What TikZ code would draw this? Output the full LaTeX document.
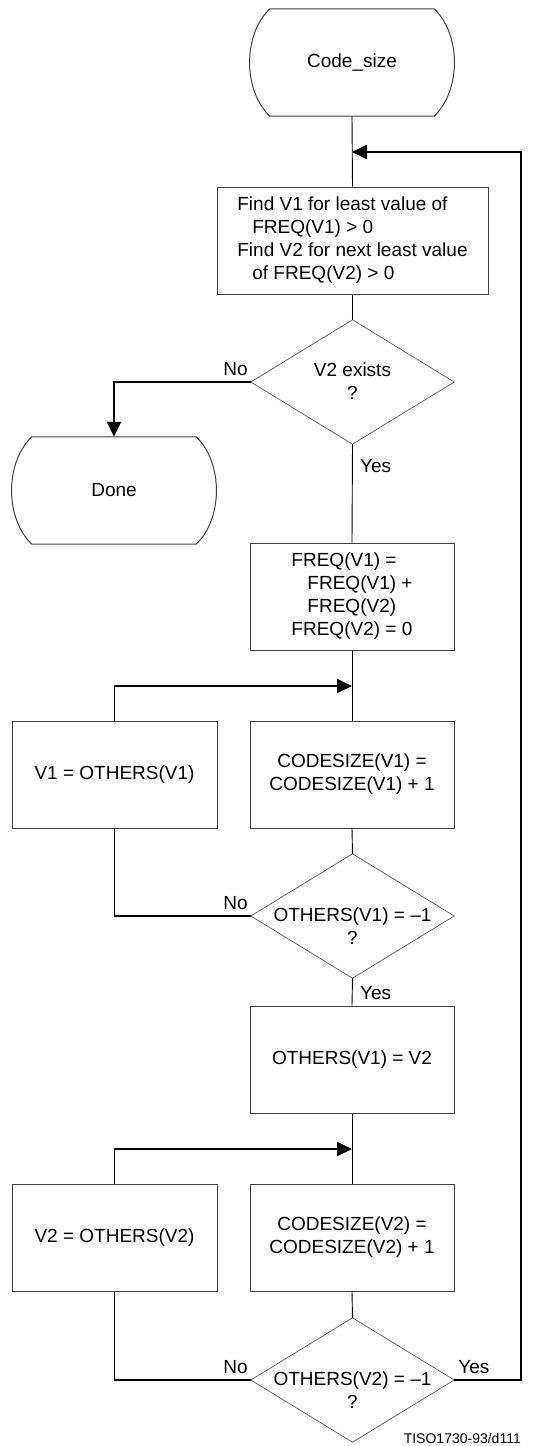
\documentclass[tikz,border=0pt]{standalone}
\usepackage{fontspec}
\setmainfont{Liberation Sans}
\usetikzlibrary{arrows.meta}
\tikzset{
  base/.style={font=\fontsize{19}{23}\selectfont, inner sep=0pt},
  term/.style={base, minimum width=204pt, minimum height=107pt},
  procbox/.style={base, draw=black!75, line width=1pt, minimum height=107pt, align=center},
  decbox/.style={base, minimum width=203pt, minimum height=124pt},
  dectext/.style={base, align=center},
  lbl/.style={base},
  thinline/.style={line width=0.9pt},
  conn/.style={line width=1.8pt},
  arr/.style={-{Triangle[length=15pt,width=14pt]}},
  outl/.style={draw=black!75, line width=1pt},
  doutl/.style={draw=black!65, line width=0.7pt},
}
\newcommand\termoutline[1]{%
  \draw[outl] ([xshift=20pt]#1.north west) -- ([xshift=-20pt]#1.north east)
    .. controls ([xshift=7pt,yshift=-26pt]#1.north east) and ([xshift=7pt,yshift=26pt]#1.south east) .. ([xshift=-20pt]#1.south east)
    -- ([xshift=20pt]#1.south west)
    .. controls ([xshift=-7pt,yshift=26pt]#1.south west) and ([xshift=-7pt,yshift=-26pt]#1.north west) .. cycle;}
\newcommand\decoutline[1]{%
  \draw[doutl] (#1.north) -- (#1.east) -- (#1.south) -- (#1.west) -- cycle;}
\begin{document}
\begin{tikzpicture}[x=1pt,y=-1pt]
\useasboundingbox (0,0) rectangle (548,1446);
% nodes
\node[term] (start) at (352,62.5) {Code\_size};
\termoutline{start}
\node[procbox, minimum width=271pt, align=left] (find) at (352.5,240.5)
  {Find V1 for least value of\\\hspace*{15pt}FREQ(V1) > 0\\Find V2 for next least value\\\hspace*{15pt}of FREQ(V2) > 0};
\node[decbox] (d1) at (352.5,382) {};
\decoutline{d1}
\node[dectext] (d1t) at (352.5,381) {V2 exists\\?};
\node[term] (done) at (114,490.5) {Done};
\termoutline{done}
\node[procbox, minimum width=204pt, align=left] (freq) at (352,596.5)
  {FREQ(V1) =\\\hspace*{16pt}FREQ(V1) +\\\hspace*{16pt}FREQ(V2)\\FREQ(V2) = 0};
\node[procbox, minimum width=204pt] (cs1) at (352,774.5) {CODESIZE(V1) =\\CODESIZE(V1) + 1};
\node[procbox, minimum width=205pt] (ot1) at (114.5,774.5) {V1 = OTHERS(V1)};
\node[decbox] (d2) at (352.5,916) {};
\decoutline{d2}
\node[dectext] (d2t) at (352.5,926.5) {OTHERS(V1) = –1\\?};
\node[procbox, minimum width=204pt] (setv) at (352,1059.5) {OTHERS(V1) = V2};
\node[procbox, minimum width=204pt] (cs2) at (352,1237.5) {CODESIZE(V2) =\\CODESIZE(V2) + 1};
\node[procbox, minimum width=205pt] (ot2) at (114.5,1237.5) {V2 = OTHERS(V2)};
\node[decbox] (d3) at (352.5,1380) {};
\decoutline{d3}
\node[dectext] (d3t) at (352.5,1390) {OTHERS(V2) = –1\\?};
% labels
\node[lbl, anchor=east] (no1) at ([xshift=-3pt,yshift=13pt]d1.west) {No};
\node[lbl, anchor=west] (yes1) at ([xshift=7.5pt,yshift=-22pt]d1.south) {Yes};
\node[lbl, anchor=east] (no2) at ([xshift=-3pt,yshift=13pt]d2.west) {No};
\node[lbl, anchor=west] (yes2) at ([xshift=7.5pt,yshift=-15pt]d2.south) {Yes};
\node[lbl, anchor=east] (no3) at ([xshift=-3pt,yshift=13pt]d3.west) {No};
\node[lbl, anchor=west] (yes3) at ([xshift=4pt,yshift=13pt]d3.east) {Yes};
\node[font=\fontsize{14}{16}\selectfont, inner sep=0pt, anchor=east] (ref) at (521,1438) {TISO1730-93/d111};
% merge points
\coordinate (m0) at (352,152);
\coordinate (c0) at (521,152);
\coordinate (m1) at (352,686);
\coordinate (m2) at (352,1149);
% main flow
\draw[thinline] (start.south) -- (find.north);
\draw[thinline] (find.south) -- (d1.north);
\draw[thinline] (d1.south) -- (freq.north);
\draw[thinline] (freq.south) -- (cs1.north);
\draw[thinline] (cs1.south) -- (d2.north);
\draw[thinline] (d2.south) -- (setv.north);
\draw[thinline] (setv.south) -- (cs2.north);
\draw[thinline] (cs2.south) -- (d3.north);
% connectors
\draw[conn, arr] (d1.west) -| (done.north);
\draw[conn] (d2.west) -| (ot1.south);
\draw[conn, arr] (ot1.north) |- (m1);
\draw[conn] (d3.west) -| (ot2.south);
\draw[conn, arr] (ot2.north) |- (m2);
\draw[conn, arr] (d3.east) -| (c0) -- (m0);
\end{tikzpicture}
\end{document}
